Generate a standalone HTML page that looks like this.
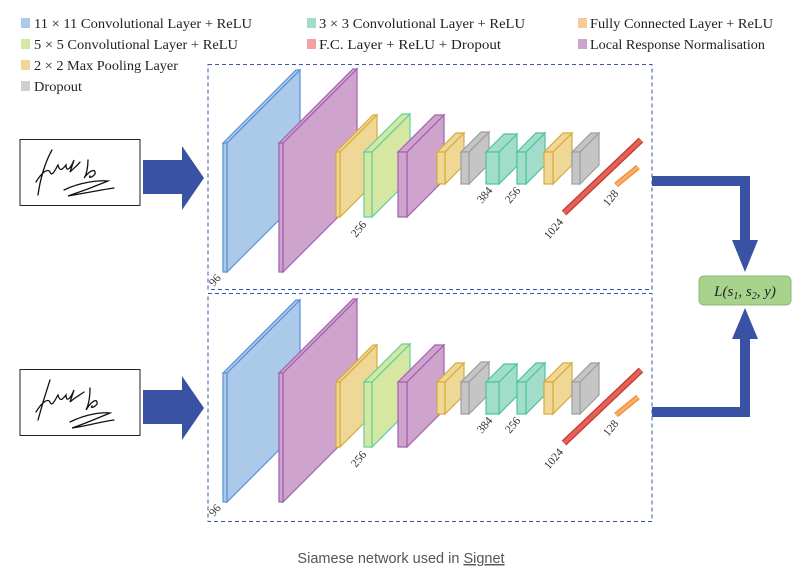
<!DOCTYPE html>
<html><head><meta charset="utf-8"><style>
html,body{margin:0;padding:0;background:#fff;width:803px;height:576px;overflow:hidden}
svg{display:block}
.lg{font-family:"Liberation Serif",serif;font-size:14px;fill:#222}
.lb{font-family:"Liberation Serif",serif;font-size:11.5px;fill:#333}
.cap{font-family:"Liberation Sans",sans-serif;font-size:14.5px;fill:#555}
</style></head><body>
<svg width="803" height="576" viewBox="0 0 803 576" xmlns="http://www.w3.org/2000/svg">
<defs>
<g id="net">
 <g fill="#abcae9" stroke="#5d90d8" stroke-width="1.2">
  <polygon points="227,143 300,70 300,199 227,272"/>
  <polygon points="223,143 296,70 300,70 227,143"/>
  <rect x="223" y="143" width="4" height="129"/>
 </g>
 <g fill="#cea4cd" stroke="#a25fb0" stroke-width="1.2">
  <polygon points="283,143 357,69 357,198 283,272"/>
  <polygon points="279,143 353,69 357,69 283,143"/>
  <rect x="279" y="143" width="4" height="129"/>
 </g>
 <g fill="#efd796" stroke="#d8a93c" stroke-width="1.2">
  <polygon points="340,152 377,115 377,180 340,217"/>
  <polygon points="336,152 373,115 377,115 340,152"/>
  <rect x="336" y="152" width="4" height="65"/>
 </g>
 <g fill="#d6e7a2" stroke="#5fd0a0" stroke-width="1.2">
  <polygon points="372,152 410,114 410,179 372,217"/>
  <polygon points="364,152 402,114 410,114 372,152"/>
  <rect x="364" y="152" width="8" height="65"/>
 </g>
 <g fill="#cea4cd" stroke="#a25fb0" stroke-width="1.2">
  <polygon points="407,152 444,115 444,180 407,217"/>
  <polygon points="398,152 435,115 444,115 407,152"/>
  <rect x="398" y="152" width="9" height="65"/>
 </g>
 <g fill="#efd796" stroke="#d8a93c" stroke-width="1.2">
  <polygon points="445,152 464,133 464,165 445,184"/>
  <polygon points="437,152 456,133 464,133 445,152"/>
  <rect x="437" y="152" width="8" height="32"/>
 </g>
 <g fill="#c5c5c5" stroke="#9e9e9e" stroke-width="1.2">
  <polygon points="469,152 489,132 489,164 469,184"/>
  <polygon points="461,152 481,132 489,132 469,152"/>
  <rect x="461" y="152" width="8" height="32"/>
 </g>
 <g fill="#a2dcca" stroke="#4cc49c" stroke-width="1.2">
  <polygon points="499,152 517,134 517,166 499,184"/>
  <polygon points="486,152 504,134 517,134 499,152"/>
  <rect x="486" y="152" width="13" height="32"/>
 </g>
 <g fill="#a2dcca" stroke="#4cc49c" stroke-width="1.2">
  <polygon points="526,152 545,133 545,165 526,184"/>
  <polygon points="517,152 536,133 545,133 526,152"/>
  <rect x="517" y="152" width="9" height="32"/>
 </g>
 <g fill="#efd796" stroke="#d8a93c" stroke-width="1.2">
  <polygon points="553,152 572,133 572,165 553,184"/>
  <polygon points="544,152 563,133 572,133 553,152"/>
  <rect x="544" y="152" width="9" height="32"/>
 </g>
 <g fill="#c5c5c5" stroke="#9e9e9e" stroke-width="1.2">
  <polygon points="580,152 599,133 599,165 580,184"/>
  <polygon points="572,152 591,133 599,133 580,152"/>
  <rect x="572" y="152" width="8" height="32"/>
 </g>
 <line x1="564" y1="213" x2="641" y2="140" stroke="#c0392b" stroke-width="6.5"/>
 <line x1="564" y1="213" x2="641" y2="140" stroke="#e6605a" stroke-width="4"/>
 <line x1="616" y1="185" x2="638" y2="167" stroke="#f08a2c" stroke-width="5.5"/>
 <line x1="616" y1="185" x2="638" y2="167" stroke="#fbb06a" stroke-width="3"/>
</g>
</defs>

<!-- legend -->
<rect x="21" y="18" width="9" height="10" fill="#abcae9"/><text class="lg" x="34" y="28" textLength="218" lengthAdjust="spacingAndGlyphs">11 × 11 Convolutional Layer + ReLU</text>
<rect x="21" y="39" width="9" height="10" fill="#d6e7a2"/><text class="lg" x="34" y="49" textLength="204" lengthAdjust="spacingAndGlyphs">5 × 5 Convolutional Layer + ReLU</text>
<rect x="21" y="60" width="9" height="10" fill="#efd796"/><text class="lg" x="34" y="70" textLength="144" lengthAdjust="spacingAndGlyphs">2 × 2 Max Pooling Layer</text>
<rect x="21" y="81" width="9" height="10" fill="#cfcfcf"/><text class="lg" x="34" y="91" textLength="48" lengthAdjust="spacingAndGlyphs">Dropout</text>
<rect x="307" y="18" width="9" height="10" fill="#a2dcca"/><text class="lg" x="319" y="28" textLength="206" lengthAdjust="spacingAndGlyphs">3 × 3 Convolutional Layer + ReLU</text>
<rect x="307" y="39" width="9" height="10" fill="#f0a3a0"/><text class="lg" x="319" y="49" textLength="182" lengthAdjust="spacingAndGlyphs">F.C. Layer + ReLU + Dropout</text>
<rect x="578" y="18" width="9" height="10" fill="#f9c99a"/><text class="lg" x="590" y="28" textLength="183" lengthAdjust="spacingAndGlyphs">Fully Connected Layer + ReLU</text>
<rect x="578" y="39" width="9" height="10" fill="#cea4cd"/><text class="lg" x="590" y="49" textLength="175" lengthAdjust="spacingAndGlyphs">Local Response Normalisation</text>

<rect x="208" y="64.5" width="444" height="225" fill="none" stroke="#3b55b0" stroke-width="1" stroke-dasharray="4,3"/>
<rect x="208" y="293.5" width="444" height="228" fill="none" stroke="#3b55b0" stroke-width="1" stroke-dasharray="4,3"/>

<use href="#net"/>
<use href="#net" transform="translate(0,230)"/>

<g class="lb">
<text transform="translate(214,287) rotate(-50)">96</text>
<text transform="translate(356,238) rotate(-50)">256</text>
<text transform="translate(482,204) rotate(-50)">384</text>
<text transform="translate(510,204) rotate(-50)">256</text>
<text transform="translate(549,240) rotate(-50)">1024</text>
<text transform="translate(608,207) rotate(-50)">128</text>
<text transform="translate(214,517) rotate(-50)">96</text>
<text transform="translate(356,468) rotate(-50)">256</text>
<text transform="translate(482,434) rotate(-50)">384</text>
<text transform="translate(510,434) rotate(-50)">256</text>
<text transform="translate(549,470) rotate(-50)">1024</text>
<text transform="translate(608,437) rotate(-50)">128</text>
</g>

<rect x="20" y="139.5" width="120" height="66" fill="#fff" stroke="#222" stroke-width="1"/>
<g fill="none" stroke="#111" stroke-width="1.3" stroke-linecap="round">
<path d="M38,195 C40,180 45,162 52,150 M36,182 C42,172 48,168 50,172 C52,178 56,168 58,165 C60,172 62,170 66,165 C66,172 70,170 74,160 L70,172 C74,168 78,165 80,162 M88,160 C88,168 86,176 84,178 C90,170 96,168 95,174 C92,178 88,178 90,176 M64,190 C80,182 100,180 108,181 C96,186 80,192 68,196 C80,194 100,190 114,188"/>
</g>
<rect x="20" y="369.5" width="120" height="66" fill="#fff" stroke="#222" stroke-width="1"/>
<g fill="none" stroke="#111" stroke-width="1.3" stroke-linecap="round">
<path d="M38,420 C42,405 46,392 50,380 M36,412 C42,402 48,398 50,402 C52,408 56,398 58,395 C60,402 62,400 66,395 C66,402 70,400 74,390 L70,402 C74,398 80,395 84,392 M90,388 C90,398 88,406 86,410 C92,400 98,398 97,404 C94,408 90,408 92,406 M70,422 C86,414 102,412 110,413 C98,418 84,424 72,428 C86,426 100,422 114,420"/>
</g>

<polygon points="143,160 182,160 182,146 204,178 182,210 182,194 143,194" fill="#3a52a3"/>
<polygon points="143,390 182,390 182,376 204,408 182,440 182,424 143,424" fill="#3a52a3"/>

<g fill="#3a52a3">
<rect x="652" y="176" width="98" height="10"/>
<rect x="740" y="176" width="10" height="66"/>
<polygon points="732,240 758,240 745,272"/>
<rect x="652" y="407" width="98" height="10"/>
<rect x="740" y="336" width="10" height="81"/>
<polygon points="732,339 758,339 745,308"/>
</g>
<rect x="699" y="276" width="92" height="29" rx="5" fill="#a7d38d" stroke="#8cb978" stroke-width="1"/>
<text x="745" y="296" text-anchor="middle" font-family="Liberation Serif,serif" font-style="italic" font-size="15" fill="#222">L(s<tspan font-size="10" dy="3">1</tspan><tspan dy="-3">, s</tspan><tspan font-size="10" dy="3">2</tspan><tspan dy="-3">, y)</tspan></text>

<text class="cap" x="401" y="563" text-anchor="middle">Siamese network used in <tspan text-decoration="underline">Signet</tspan></text>
</svg>
</body></html>
